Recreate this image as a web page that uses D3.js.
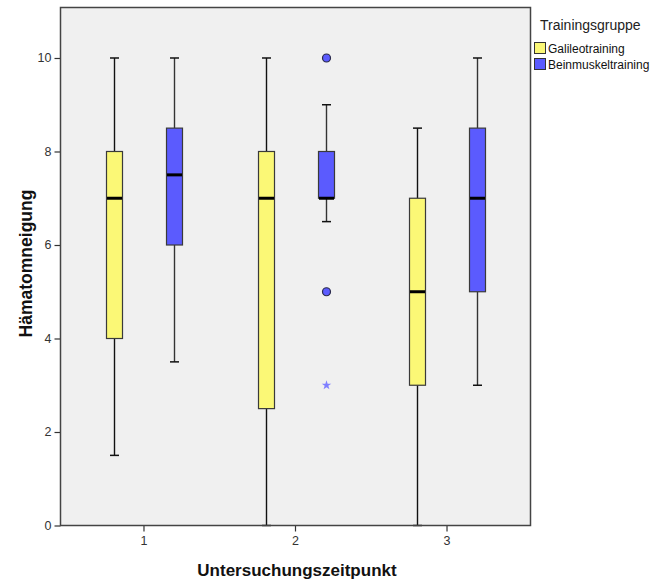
<!DOCTYPE html>
<html>
<head>
<meta charset="utf-8">
<script src="https://cdn.jsdelivr.net/npm/d3@7"></script>
<style>
  html, body { margin: 0; padding: 0; background: #ffffff; }
  svg { display: block; font-family: "Liberation Sans", Arial, sans-serif; }
</style>
</head>
<body>
<svg id="chart" width="661" height="584"></svg>
<script>
// Time points and training groups
const timepoints = ["1", "2", "3"];
const groups = ["Galileotraining", "Beinmuskeltraining"];
const groupColors = ["#fbf876", "#5b5bfe"];

// Box statistics per time point, Galileotraining
const galileoMin    = [1.5, 0,   0];
const galileoQ1     = [4,   2.5, 3];
const galileoMedian = [7,   7,   5];
const galileoQ3     = [8,   8,   7];
const galileoMax    = [10,  10,  8.5];

// Box statistics per time point, Beinmuskeltraining
const beinMin    = [3.5, 6.5, 3];
const beinQ1     = [6,   7,   5];
const beinMedian = [7.5, 7,   7];
const beinQ3     = [8.5, 8,   8.5];
const beinMax    = [10,  9,   10];

// Outliers (circles) and extreme values (stars), Beinmuskeltraining
const beinOutlierTime   = ["2", "2"];
const beinOutlierValue  = [10, 5];
const beinExtremeTime   = ["2"];
const beinExtremeValue  = [3];

const yTicks = [0, 2, 4, 6, 8, 10];

const stats = [
  { group: groups[0], min: galileoMin, q1: galileoQ1, med: galileoMedian, q3: galileoQ3, max: galileoMax },
  { group: groups[1], min: beinMin,    q1: beinQ1,    med: beinMedian,    q3: beinQ3,    max: beinMax }
];

const boxes = [];
stats.forEach((s, gi) => {
  timepoints.forEach((t, i) => {
    boxes.push({ t, group: s.group, gi, min: s.min[i], q1: s.q1[i], med: s.med[i], q3: s.q3[i], max: s.max[i] });
  });
});

const svg = d3.select("#chart");
const plotLeft = 60.5, plotRight = 530.5, plotTop = 7.5, plotBottom = 525.5;

const x = d3.scaleBand().domain(timepoints).range([plotLeft, plotRight]).paddingInner(0).paddingOuter(0.051);
const xg = d3.scalePoint().domain(groups).range([-30, 30]);
const y = d3.scaleLinear().domain([0, 11.08]).range([plotBottom, plotTop]);

const cx = (t, g) => x(t) + x.bandwidth() / 2 + xg(g);
const boxW = 16, capW = 9;

// Plot background
svg.append("rect")
  .attr("x", plotLeft).attr("y", plotTop)
  .attr("width", plotRight - plotLeft).attr("height", plotBottom - plotTop)
  .attr("fill", "#f0f0f0");

// Boxes with whiskers and medians
const bx = svg.append("g");
boxes.forEach(b => {
  const c = Math.round(cx(b.t, b.group)) + 0.5;
  const wColor = b.gi === 0 ? "#111" : "#333";
  bx.append("line").attr("x1", c).attr("x2", c)
    .attr("y1", y(b.max)).attr("y2", y(b.q3))
    .attr("stroke", wColor).attr("stroke-width", 1.4);
  bx.append("line").attr("x1", c).attr("x2", c)
    .attr("y1", y(b.q1)).attr("y2", y(b.min))
    .attr("stroke", wColor).attr("stroke-width", 1.4);
  [b.max, b.min].forEach(v => {
    bx.append("line").attr("x1", c - capW / 2).attr("x2", c + capW / 2)
      .attr("y1", y(v)).attr("y2", y(v))
      .attr("stroke", "#111").attr("stroke-width", 1.5);
  });
  bx.append("rect")
    .attr("x", c - boxW / 2).attr("y", y(b.q3))
    .attr("width", boxW).attr("height", y(b.q1) - y(b.q3))
    .attr("fill", groupColors[b.gi])
    .attr("stroke", "#3a3a3a").attr("stroke-width", 1.2);
  bx.append("line").attr("x1", c - boxW / 2 + 0.5).attr("x2", c + boxW / 2 - 0.5)
    .attr("y1", y(b.med)).attr("y2", y(b.med))
    .attr("stroke", "#000").attr("stroke-width", 3);
});

// Outliers
beinOutlierTime.forEach((t, i) => {
  svg.append("circle")
    .attr("cx", Math.round(cx(t, groups[1])) + 0.5)
    .attr("cy", y(beinOutlierValue[i]))
    .attr("r", 4)
    .attr("fill", groupColors[1])
    .attr("stroke", "#2a2a4a").attr("stroke-width", 1.2);
});

// Extreme values
beinExtremeTime.forEach((t, i) => {
  svg.append("path")
    .attr("d", d3.symbol().type(d3.symbolStar).size(28)())
    .attr("transform", `translate(${Math.round(cx(t, groups[1])) + 0.5},${y(beinExtremeValue[i])})`)
    .attr("fill", "#7f7fff");
});

// Axes
const yAxis = svg.append("g")
  .attr("transform", `translate(${plotLeft},0)`)
  .call(d3.axisLeft(y).tickValues(yTicks).tickSize(6).tickPadding(3).tickFormat(d3.format("d")));
const xAxis = svg.append("g")
  .attr("transform", `translate(0,${plotBottom})`)
  .call(d3.axisBottom(x).tickSize(6).tickPadding(5));
[yAxis, xAxis].forEach(a => {
  a.select(".domain").remove();
  a.selectAll(".tick line").attr("stroke", "#333").attr("stroke-width", 1.2);
  a.selectAll(".tick text").attr("fill", "#333").style("font-size", "12.5px")
    .style("font-family", "'Liberation Sans', Arial, sans-serif");
});

// Plot frame
svg.append("rect")
  .attr("x", plotLeft).attr("y", plotTop)
  .attr("width", plotRight - plotLeft).attr("height", plotBottom - plotTop)
  .attr("fill", "none").attr("stroke", "#444").attr("stroke-width", 1.5);

// Axis titles
svg.append("text")
  .attr("x", 297).attr("y", 576)
  .attr("text-anchor", "middle")
  .style("font-size", "17px").style("font-weight", "bold")
  .attr("fill", "#111")
  .text("Untersuchungszeitpunkt");
svg.append("text")
  .attr("transform", "translate(32,263.5) rotate(-90)")
  .attr("text-anchor", "middle")
  .style("font-size", "17.5px").style("font-weight", "bold")
  .attr("fill", "#111")
  .text("Hämatomneigung");

// Legend
const legend = svg.append("g");
legend.append("text")
  .attr("x", 540).attr("y", 30)
  .style("font-size", "14px").attr("fill", "#222")
  .text("Trainingsgruppe");
groups.forEach((g, i) => {
  const yy = 42.5 + i * 16;
  legend.append("rect")
    .attr("x", 534.5).attr("y", yy)
    .attr("width", 11).attr("height", 11)
    .attr("fill", groupColors[i]).attr("stroke", "#333").attr("stroke-width", 1);
  legend.append("text")
    .attr("x", 548).attr("y", yy + 10)
    .style("font-size", "12px").attr("fill", "#111")
    .text(g);
});
</script>
</body>
</html>
